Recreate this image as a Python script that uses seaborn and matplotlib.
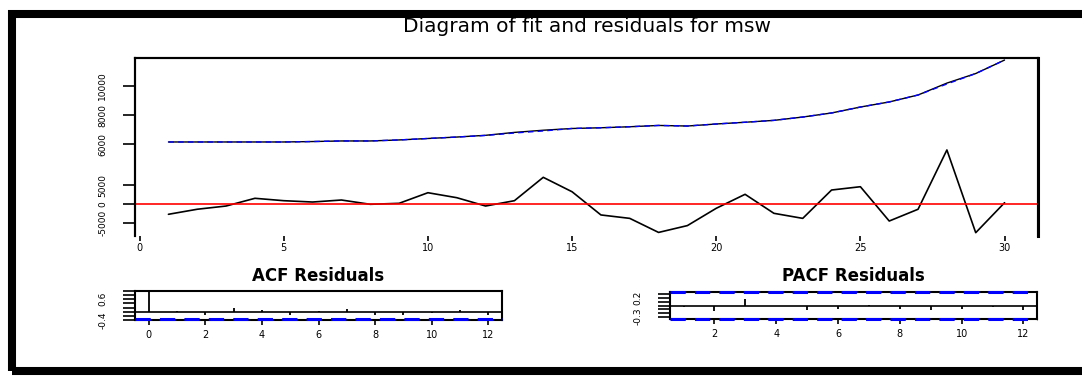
import matplotlib
matplotlib.use("Agg")
import matplotlib.pyplot as plt
from matplotlib.patches import Rectangle
import seaborn as sns
import pandas as pd

# ---------------- data ----------------
time = list(range(1, 31))
actual = [6140, 6140, 6140, 6140, 6140, 6170, 6210, 6210, 6280, 6380,
          6480, 6600, 6800, 6950, 7070, 7120, 7190, 7280, 7240, 7380,
          7500, 7630, 7860, 8140, 8550, 8900, 9380, 10200, 10860, 11790]
fitted = [6140, 6140, 6140, 6140, 6140, 6170, 6210, 6210, 6280, 6380,
          6480, 6590, 6760, 6900, 7070, 7120, 7190, 7280, 7240, 7380,
          7500, 7630, 7860, 8140, 8550, 8900, 9380, 10140, 10860, 11790]
residuals = [-2630, -1300, -450, 1580, 950, 600, 1130, 0, 260, 3050,
             1740, -450, 950, 7100, 3300, -2800, -3700, -7400, -5600, -1050,
             2630, -2370, -3700, 3760, 4630, -4400, -1300, 14300, -7470, 420]

acf_lags = list(range(0, 13))
acf_vals = [1.0, 0.03, -0.15, 0.18, 0.08, -0.15, 0.04, 0.13, -0.15, -0.15, -0.05, 0.07, -0.15]
pacf_lags = list(range(1, 13))
pacf_vals = [-0.05, -0.15, 0.17, 0.0, -0.12, -0.10, 0.02, -0.10, -0.12, -0.10, -0.03, -0.12]
conf_limit = 0.358

main_title = "Diagram of fit and residuals for msw"
acf_title = "ACF Residuals"
pacf_title = "PACF Residuals"

x_ticks = [0, 5, 10, 15, 20, 25, 30]
resid_ticks = [-5000, 0, 5000]
fit_ticks = [6000, 8000, 10000]
acf_xticks = [0, 2, 4, 6, 8, 10, 12]
pacf_xticks = [2, 4, 6, 8, 10, 12]
acf_yticks = [-0.4, -0.2, 0.0, 0.2, 0.4, 0.6, 0.8, 1.0]
acf_ylabels = ["-0.4", "", "", "", "", "0.6", "", ""]
pacf_yticks = [-0.3, -0.2, -0.1, 0.0, 0.1, 0.2, 0.3]
pacf_ylabels = ["-0.3", "", "", "", "", "0.2", ""]

df = pd.DataFrame({"time": time, "actual": actual, "fitted": fitted, "resid": residuals})

# ---------------- style ----------------
sns.set_style("white")
plt.rcParams["font.family"] = ["DejaVu Sans"]
plt.rcParams["text.color"] = "black"
plt.rcParams["axes.titlecolor"] = "black"
plt.rcParams["xtick.color"] = "black"
plt.rcParams["ytick.color"] = "black"

W, H = 1082, 376
fig = plt.figure(figsize=(W / 100, H / 100), dpi=100)


def box(l, t, r, b):
    return [l / W, (H - b) / H, (r - l) / W, (b - t) / H]


# ---------------- top panel ----------------
ax = fig.add_axes(box(135, 58, 1038, 236))
ax2 = ax.twinx()

sns.lineplot(data=df, x="time", y="resid", ax=ax, color="black", lw=1.2)
ax.axhline(0, color="red", lw=1.2)
sns.lineplot(data=df, x="time", y="actual", ax=ax2, color="black", lw=1.0)
sns.lineplot(data=df, x="time", y="fitted", ax=ax2, color="blue", lw=1.0,
             linestyle=(0, (4, 3)))

ax.set_xlim(-0.16, 31.16)
ax.set_ylim(-8340, 38500)
ax2.set_ylim(-344, 11931)
ax.set_xticks(x_ticks)
ax.set_xticklabels([str(v) for v in x_ticks], fontsize=7)
ax.set_yticks(resid_ticks)
ax.set_yticklabels([str(v) for v in resid_ticks], fontsize=6.5, rotation=90, va="center")
ax2.set_yticks(fit_ticks)
ax2.set_yticklabels([str(v) for v in fit_ticks], fontsize=6.5, rotation=90, va="center")
ax2.yaxis.set_ticks_position("left")
ax2.yaxis.set_label_position("left")
for a in (ax, ax2):
    a.set_xlabel("")
    a.set_ylabel("")
    a.spines["bottom"].set_visible(False)
    for s in ("left", "top", "right"):
        a.spines[s].set_linewidth(1.5)
        a.spines[s].set_color("black")
    a.tick_params(axis="y", which="both", left=True, right=False, length=9,
                  width=1.2, pad=11, colors="black")
ax.tick_params(axis="x", bottom=True, length=3.5, width=1.2, pad=1.5, colors="black")
ax2.spines["right"].set_linewidth(2.2)

# ---------------- ACF ----------------
axa = fig.add_axes(box(135, 291, 502, 320))
axa.vlines(acf_lags, 0, acf_vals, color="black", lw=1.3)
axa.axhline(0, color="black", lw=1.2)
axa.axhline(-conf_limit, color="blue", lw=2.2, linestyle=(0, (5, 3)), zorder=5, clip_on=False)
axa.set_xlim(-0.48, 12.48)
axa.set_ylim(-0.4, 1.0)
axa.set_xticks(acf_xticks)
axa.set_xticklabels([str(v) for v in acf_xticks], fontsize=7)
axa.set_yticks(acf_yticks)
axa.set_yticklabels(acf_ylabels, fontsize=6.5, rotation=90, va="center")
axa.set_title(acf_title, fontsize=12, fontweight="bold", pad=7)

# ---------------- PACF ----------------
axp = fig.add_axes(box(670, 292, 1037, 319))
axp.vlines(pacf_lags, 0, pacf_vals, color="black", lw=1.3)
axp.axhline(0, color="black", lw=1.2)
axp.axhline(conf_limit, color="blue", lw=2.2, linestyle=(0, (5, 3)), zorder=5, clip_on=False)
axp.axhline(-conf_limit, color="blue", lw=2.2, linestyle=(0, (5, 3)), zorder=5, clip_on=False)
axp.set_xlim(0.56, 12.44)
axp.set_ylim(-0.365, 0.365)
axp.set_xticks(pacf_xticks)
axp.set_xticklabels([str(v) for v in pacf_xticks], fontsize=7)
axp.set_yticks(pacf_yticks)
axp.set_yticklabels(pacf_ylabels, fontsize=6.5, rotation=90, va="center")
axp.set_title(pacf_title, fontsize=12, fontweight="bold", pad=8)

for a in (axa, axp):
    for s in a.spines.values():
        s.set_linewidth(1.5)
        s.set_color("black")
    a.tick_params(axis="y", left=True, length=9, width=1.2, pad=11, colors="black")
    a.tick_params(axis="x", bottom=True, length=3.5, width=1.2, pad=4, colors="black")

# ---------------- title and frame ----------------
fig.text(587 / W, 1 - 26 / H, main_title, ha="center", va="center", fontsize=14.5,
         color="black")
fig.add_artist(Rectangle((12 / W, (H - 370.5) / H), 1.2, (370.5 - 13.5) / H,
                         transform=fig.transFigure, fill=False, ec="black",
                         lw=5.8, clip_on=False))

fig.savefig("out.png", dpi=100)
